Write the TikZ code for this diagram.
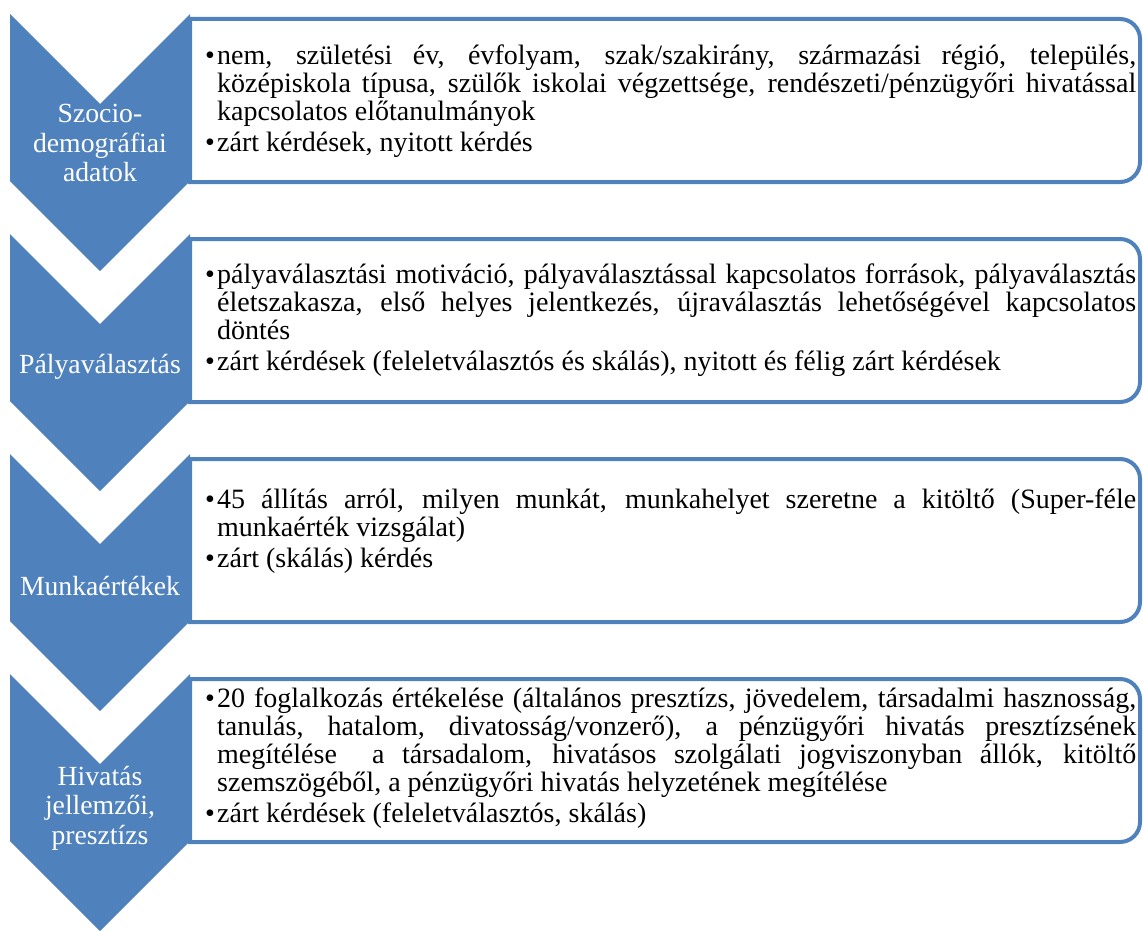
\documentclass[tikz,border=0pt]{standalone}
\usepackage{fontspec}
\setmainfont{Liberation Serif}
\definecolor{chev}{HTML}{4F81BD}
\newcommand{\drawchev}[1]{%
  \fill[chev] (10,-#1) -- (100,-#1-90) -- (190,-#1) -- (190,-#1-167) -- (100,-#1-257) -- (10,-#1-167) -- cycle;}
\newcommand{\drawbox}[1]{%
  \draw[boxline] (190,-#1-5) -- (1120,-#1-5) arc[start angle=90,end angle=0,radius=20pt] -- (1140,-#1-148) arc[start angle=0,end angle=-90,radius=20pt] -- (190,-#1-168) -- cycle;}
\newcommand{\firstln}[1]{\noindent\makebox[12pt][l]{•}\makebox[919pt][s]{#1}\par}
\newcommand{\contln}[1]{\noindent\hspace*{12pt}\makebox[919pt][s]{#1}\par}
\newcommand{\lastln}[1]{\noindent\hspace*{12pt}#1\par}
\newcommand{\soloitem}[1]{\noindent\makebox[12pt][l]{•}#1\par}
\newcommand{\itemgap}{\vspace{3pt}}
\newcommand{\boxfont}{\fontsize{28pt}{28pt}\selectfont}
\newcommand{\lblfont}{\fontsize{27.7pt}{29.5pt}\selectfont}
\begin{document}
\begin{tikzpicture}[x=1pt,y=1pt,
  boxline/.style={draw=chev,line width=4pt,fill=white},
  lbl/.style={text=white,inner sep=0pt,anchor=base},
  txt/.style={inner sep=0pt,anchor=base west}]
\useasboundingbox (0,0) rectangle (1143,-931);
% boxes
\drawbox{14}
\drawbox{234}
\drawbox{454}
\drawbox{674}
% chevrons
\drawchev{14}
\drawchev{234}
\drawchev{454}
\drawchev{674}
% chevron labels
\node[lbl] (l1) at (100,-123) {\parbox[t]{176pt}{\centering\lblfont Szocio-\\demográfiai\\adatok}};
\node[lbl] (l2) at (100,-373) {\parbox[t]{176pt}{\centering\lblfont Pályaválasztás}};
\node[lbl] (l3) at (100,-595) {\parbox[t]{176pt}{\centering\lblfont Munkaértékek}};
\node[lbl] (l4) at (100,-785) {\parbox[t]{176pt}{\centering\lblfont Hivatás\\jellemzői,\\presztízs}};
% box texts
\node[txt] (t1) at (205,-65) {\parbox[t]{931pt}{\boxfont
\firstln{nem, születési év, évfolyam, szak/szakirány, származási régió, település,}
\contln{középiskola típusa, szülők iskolai végzettsége, rendészeti/pénzügyőri hivatással}
\lastln{kapcsolatos előtanulmányok}
\itemgap
\soloitem{zárt kérdések, nyitott kérdés}}};
\node[txt] (t2) at (205,-283) {\parbox[t]{931pt}{\boxfont
\firstln{pályaválasztási motiváció, pályaválasztással kapcsolatos források, pályaválasztás}
\contln{életszakasza, első helyes jelentkezés, újraválasztás lehetőségével kapcsolatos}
\lastln{döntés}
\itemgap
\soloitem{zárt kérdések (feleletválasztós és skálás), nyitott és félig zárt kérdések}}};
\node[txt] (t3) at (205,-508) {\parbox[t]{931pt}{\boxfont
\firstln{45 állítás arról, milyen munkát, munkahelyet szeretne a kitöltő (Super-féle}
\lastln{munkaérték vizsgálat)}
\itemgap
\soloitem{zárt (skálás) kérdés}}};
\node[txt] (t4) at (205,-707) {\parbox[t]{931pt}{\boxfont
\firstln{20 foglalkozás értékelése (általános presztízs, jövedelem, társadalmi hasznosság,}
\contln{tanulás, hatalom, divatosság/vonzerő), a pénzügyőri hivatás presztízsének}
\contln{megítélése\ \ a társadalom, hivatásos szolgálati jogviszonyban állók, kitöltő}
\lastln{szemszögéből, a pénzügyőri hivatás helyzetének megítélése}
\itemgap
\soloitem{zárt kérdések (feleletválasztós, skálás)}}};
\end{tikzpicture}
\end{document}
